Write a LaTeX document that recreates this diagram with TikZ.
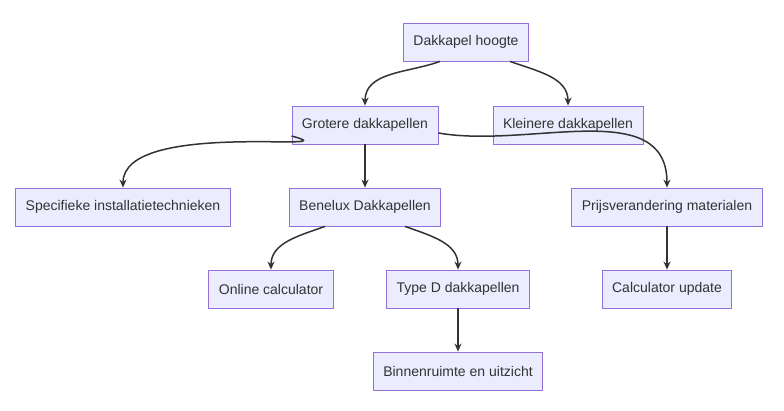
\documentclass[tikz,border=0pt]{standalone}
\usepackage{fontspec}
\setmainfont{Liberation Sans}
\usetikzlibrary{arrows.meta, positioning}
\definecolor{boxfill}{HTML}{ECECFF}
\definecolor{boxline}{HTML}{9370DB}
\definecolor{linkcol}{HTML}{333333}
\tikzset{
    flowbox/.style={draw=boxline, fill=boxfill, line width=0.8pt, minimum height=38pt, inner xsep=10pt, font=\fontsize{14}{16}\selectfont, text=linkcol},
    link/.style={-{Stealth[length=8pt, width=7pt]}, line width=1.5pt, linkcol}
}
\begin{document}
\begin{tikzpicture}[x=1pt, y=-1pt]
    \useasboundingbox (0,0) rectangle (784,411);
    % Top level
    \node[flowbox] (hoogte) at (466,42) {Dakkapel hoogte};
    \node[flowbox] (grotere) at (365,125) {Grotere dakkapellen};
    \node[flowbox] (kleinere) at (568,125) {Kleinere dakkapellen};
    % Second level
    \node[flowbox] (specifiek) at (123,207) {Specifieke installatietechnieken};
    \node[flowbox] (benelux) at (365,207) {Benelux Dakkapellen};
    \node[flowbox] (prijs) at (667,207) {Prijsverandering materialen};
    % Third level
    \node[flowbox] (online) at (271,289) {Online calculator};
    \node[flowbox] (typed) at (458,289) {Type D dakkapellen};
    \node[flowbox] (update) at (667,289) {Calculator update};
    \node[flowbox] (binnen) at (458,371) {Binnenruimte en uitzicht};

    % Connectors
    \draw[link] (hoogte.south -| 440,0) to[out=200, in=90] (grotere.north);
    \draw[link] (hoogte.south -| 510,0) to[out=-20, in=90] (kleinere.north);
    \draw[link] (grotere.west |- 0,136) to[out=-15, in=90] (specifiek.north);
    \draw[link] (grotere) -- (benelux);
    \draw[link] (grotere.east |- 0,133) to[out=-10, in=90] (prijs.north);
    \draw[link] (benelux.south -| 325,0) to[out=200, in=90] (online.north);
    \draw[link] (benelux.south -| 405,0) to[out=-20, in=90] (typed.north);
    \draw[link] (prijs) -- (update);
    \draw[link] (typed) -- (binnen);
\end{tikzpicture}
\end{document}
